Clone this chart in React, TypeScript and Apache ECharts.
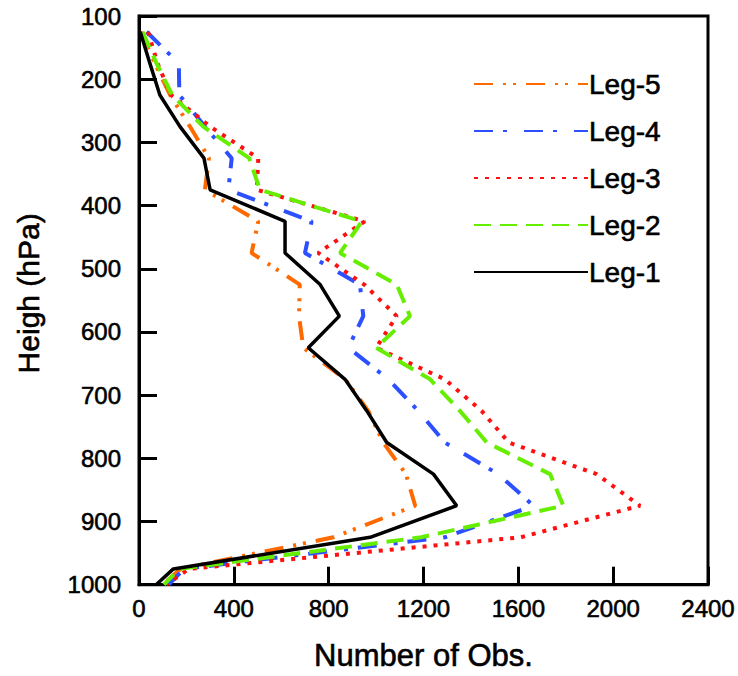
import React, { useEffect, useRef } from "react";
import * as echarts from "echarts";

const levels = [125, 175, 225, 275, 325, 375, 425, 475, 525, 575, 625, 675, 725, 775, 825, 875, 925, 975, 1000];

const leg1 = [5, 46, 88, 173, 274, 300, 616, 616, 764, 845, 714, 869, 961, 1045, 1242, 1340, 975, 145, 72];
const leg2 = [15, 74, 140, 271, 465, 510, 940, 848, 1087, 1143, 1000, 1228, 1354, 1467, 1734, 1790, 1190, 170, 105];
const leg3 = [38, 78, 135, 300, 503, 497, 952, 756, 950, 1087, 1000, 1290, 1445, 1560, 1930, 2113, 1610, 210, 115];
const leg4 = [32, 168, 170, 278, 391, 377, 728, 700, 932, 946, 883, 1052, 1178, 1290, 1515, 1664, 1290, 190, 125];
const leg5 = [10, 67, 131, 215, 295, 278, 503, 475, 678, 675, 693, 870, 967, 1030, 1126, 1165, 820, 175, 100];

const xTicks = [0, 400, 800, 1200, 1600, 2000, 2400];
const yTicks = [100, 200, 300, 400, 500, 600, 700, 800, 900, 1000];

const seriesDefs = [
  { name: "Leg-5", data: leg5, color: "#ff6a00", type: [19, 10, 3, 7, 3, 10], width: 4 },
  { name: "Leg-4", data: leg4, color: "#2c4fff", type: [19, 10, 4, 17], width: 4 },
  { name: "Leg-3", data: leg3, color: "#ff1010", type: [4, 7], width: 4 },
  { name: "Leg-2", data: leg2, color: "#66ee00", type: [17, 9], width: 4 },
  { name: "Leg-1", data: leg1, color: "#000000", type: "solid" as any, width: 3.5 },
];

export default function App() {
  const ref = useRef<HTMLDivElement>(null);
  useEffect(() => {
    if (!ref.current) return;
    const chart = echarts.init(ref.current, null, { renderer: "svg" });
    const font = "'Liberation Sans', Arial, Helvetica, sans-serif";
    const thick = { textBorderColor: "#000", textBorderWidth: 0.6 };
    chart.setOption({
      animation: false,
      textStyle: { fontFamily: font },
      grid: {
        left: 139,
        top: 16,
        right: 30,
        bottom: 90,
        show: true,
        borderColor: "#000",
        borderWidth: 3,
        containLabel: false,
      },
      legend: {
        orient: "vertical",
        left: 468,
        top: 64,
        itemWidth: 114,
        itemHeight: 30,
        itemGap: 17,
        itemStyle: { opacity: 0 },
        data: ["Leg-5", "Leg-4", "Leg-3", "Leg-2", "Leg-1"],
        textStyle: { fontSize: 28, color: "#000", fontFamily: font, lineHeight: 30, padding: [0, 0, 0, -4], ...thick },
      },
      xAxis: {
        type: "value",
        min: 0,
        max: 2400,
        interval: 400,
        name: "Number of Obs.",
        nameLocation: "middle",
        nameGap: 55,
        nameTextStyle: { fontSize: 31, color: "#000", fontFamily: font, ...thick },
        axisLine: { show: true, lineStyle: { color: "#000", width: 3 } },
        axisTick: { show: true, inside: true, length: 18, lineStyle: { color: "#000", width: 3 } },
        axisLabel: {
          fontSize: 24,
          color: "#000",
          margin: 12,
          fontFamily: font,
          ...thick,
          formatter: (v: number) => (xTicks.includes(v) ? String(v) : ""),
        },
        splitLine: { show: false },
      },
      yAxis: {
        type: "value",
        inverse: true,
        min: 100,
        max: 1000,
        interval: 100,
        name: "Heigh (hPa)",
        nameLocation: "middle",
        nameRotate: 90,
        nameGap: 96,
        nameTextStyle: { fontSize: 30, color: "#000", fontFamily: font, ...thick, padding: [0, 0, 0, 14] },
        axisLine: { show: true, lineStyle: { color: "#000", width: 3 } },
        axisTick: { show: true, inside: true, length: 18, lineStyle: { color: "#000", width: 3 } },
        axisLabel: {
          fontSize: 24,
          color: "#000",
          margin: 18,
          fontFamily: font,
          ...thick,
          formatter: (v: number) => (yTicks.includes(v) ? String(v) : ""),
        },
        splitLine: { show: false },
      },
      series: seriesDefs.map((s) => ({
        name: s.name,
        type: "line",
        data: s.data.map((v, i) => [v, levels[i]]),
        showSymbol: false,
        symbol: "none",
        color: s.color,
        lineStyle: { color: s.color, width: s.width, type: s.type },
        z: s.name === "Leg-1" ? 3 : 2,
      })),
    });
    return () => chart.dispose();
  }, []);
  return <div ref={ref} style={{ width: 738, height: 676, position: "absolute", left: 0, top: 0 }} />;
}
